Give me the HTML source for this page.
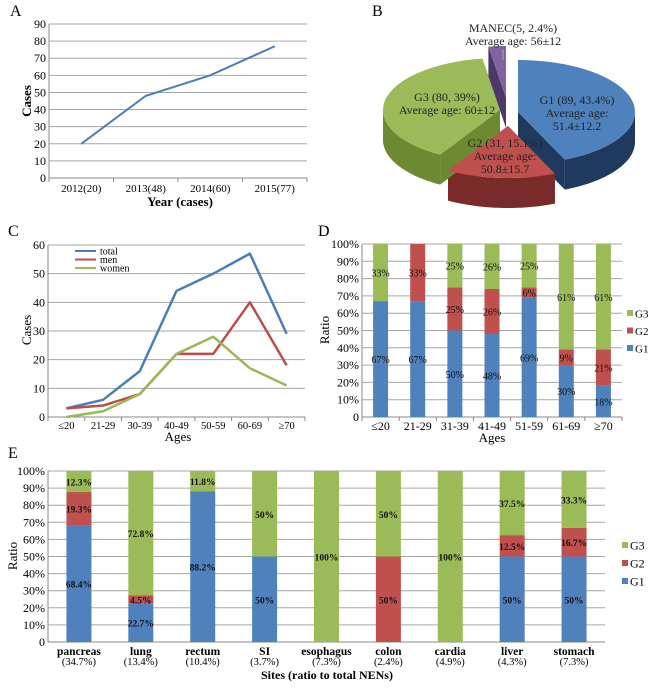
<!DOCTYPE html>
<html><head><meta charset="utf-8">
<style>
html,body{margin:0;padding:0;background:#fff;}
svg, svg text{font-family:"Liberation Serif","DejaVu Serif",serif;}
</style></head>
<body>
<svg id="fig" width="650" height="685" viewBox="0 0 650 685" font-family="Liberation Serif, serif"></svg>
<script>
// Panel A data
const yearsA = ["2012(20)","2013(48)","2014(60)","2015(77)"];
const casesA = [20,48,60,77];
const ticksA = [0,10,20,30,40,50,60,70,80,90];
// Panel B data
const pieLabels = ["G1","G2","G3","MANEC"];
const pieValues = [43.4,15.1,39.0,2.4];
// Panel C data
const agesC = ["≤20","21-29","30-39","40-49","50-59","60-69","≥70"];
const totalC = [3,6,16,44,50,57,29];
const menC = [3,4,8,22,22,40,18];
const womenC = [0,2,8,22,28,17,11];
const ticksC = [0,10,20,30,40,50,60];
// Panel D data
const agesD = ["≤20","21-29","31-39","41-49","51-59","61-69","≥70"];
const g1D = [67,67,50,48,69,30,18];
const g2D = [0,33,25,26,6,9,21];
const g3D = [33,0,25,26,25,61,61];
// Panel E data
const sitesE = ["pancreas","lung","rectum","SI","esophagus","colon","cardia","liver","stomach"];
const sitePctE = ["(34.7%)","(13.4%)","(10.4%)","(3.7%)","(7.3%)","(2.4%)","(4.9%)","(4.3%)","(7.3%)"];
const g1E = [68.4,22.7,88.2,50,0,0,0,50,50];
const g2E = [19.3,4.5,0,0,0,50,0,12.5,16.7];
const g3E = [12.3,72.8,11.8,50,100,50,100,37.5,33.3];
const pctTicks = [0,10,20,30,40,50,60,70,80,90,100];

const NS="http://www.w3.org/2000/svg";
const svg=document.getElementById('fig');
const BLUE="#4f81bd",RED="#c0504d",GREEN="#9bbb59";
const FONT="'Liberation Serif', serif";
function el(tag,attrs,parent,text){
  const e=document.createElementNS(NS,tag);
  for(const k in attrs)e.setAttribute(k,attrs[k]);
  if(tag==='text')e.setAttribute('font-family',FONT);
  if(text!==undefined)e.textContent=text;
  (parent||svg).appendChild(e);return e;
}
function grp(name){const g=el('g',{});return g;}

[["A",10,16],["B",372,16],["C",8,236],["D",318,236],["E",8,458]].forEach(p=>{
  const t=el('text',{x:p[1],y:p[2],'font-size':16},svg,p[0]);
  
  
});

function axes(g,x0,x1,yTop,yBot,ticks,max,fmt,fs){
  const ys=v=>yBot-(v/max)*(yBot-yTop);
  ticks.forEach(v=>{
    el('line',{x1:x0,x2:x1,y1:ys(v),y2:ys(v),stroke:v===0?'#888':'#a6a6a6','stroke-width':1},g);
    const t=el('text',{x:x0-3,y:ys(v)+4,'font-size':fs,'text-anchor':'end'},g,fmt(v));
    
    
  });
  el('line',{x1:x0,x2:x0,y1:yTop,y2:yBot,stroke:'#888'},g);
  return ys;
}

// ===== Panel A =====
(function(){
  const g=grp('panel-a-line-chart');
  const x0=49,x1=307,yT=24,yB=178;
  const ys=axes(g,x0,x1,yT,yB,ticksA,90,v=>v,12);
  const bw=(x1-x0)/yearsA.length;
  const xs=i=>x0+bw*(i+0.5);
  for(let i=0;i<=yearsA.length;i++)el('line',{x1:x0+bw*i,x2:x0+bw*i,y1:yB,y2:yB+4,stroke:'#888'},g);
  yearsA.forEach((c,i)=>{const t=el('text',{x:xs(i),y:192,'font-size':11,'text-anchor':'middle'},g,c);
    });
  const line=el('polyline',{points:casesA.map((v,i)=>xs(i)+','+ys(v)).join(' '),fill:'none',stroke:'#4a7ebb','stroke-width':2},g);
  
  const xt=el('text',{x:180,y:206,'font-size':13,'font-weight':'bold','text-anchor':'middle'},g,'Year (cases)');
  
  const yt=el('text',{x:0,y:0,'font-size':13,'font-weight':'bold','text-anchor':'middle',transform:'translate(31,101) rotate(-90)'},g,'Cases');
  
})();

// ===== Panel B (3D pie) =====
(function(){
  const g=grp('panel-b-pie-chart');
  const cx=510,cy=112,rx=117,ry=52,depth=30;
  const cols=[BLUE,RED,GREEN,"#8064a2"],dark=["#1f3a5e","#7a2a28","#6d8a33","#4b3768"];
  const offs=[[8,0],[-2,14],[-10,-2],[-4,-14]];
  const total=pieValues.reduce((a,b)=>a+b,0);
  const P=(ox,oy,th,dy)=>[cx+ox+rx*Math.sin(th),cy+oy+dy-ry*Math.cos(th)];
  let a=0;const slices=[];
  pieValues.forEach((v,i)=>{const a1=a,a2=a+v/total*2*Math.PI;a=a2;slices.push([a1,a2]);});
  slices.forEach(([a1,a2],i)=>{
    const [ox,oy]=offs[i];
    const s=Math.max(a1,Math.PI/2),e=Math.min(a2,Math.PI*1.5);
    [a1,a2].forEach(t=>{
      const p=P(ox,oy,t,0),q=P(ox,oy,t,depth);
      el('path',{d:`M${cx+ox},${cy+oy}L${p[0]},${p[1]}L${q[0]},${q[1]}L${cx+ox},${cy+oy+depth}Z`,fill:dark[i]},g);
    });
    if(e>s){
      let d='';const n=30;
      for(let k=0;k<=n;k++){const p=P(ox,oy,s+(e-s)*k/n,0);d+=(k?'L':'M')+p[0]+','+p[1];}
      for(let k=n;k>=0;k--){const p=P(ox,oy,s+(e-s)*k/n,depth);d+='L'+p[0]+','+p[1];}
      const w=el('path',{d:d+'Z',fill:dark[i]},g);
      
    }
  });
  slices.forEach(([a1,a2],i)=>{
    const [ox,oy]=offs[i];
    let d=`M${cx+ox},${cy+oy}`;const n=40;
    for(let k=0;k<=n;k++){const p=P(ox,oy,a1+(a2-a1)*k/n,0);d+='L'+p[0]+','+p[1];}
    const s=el('path',{d:d+'Z',fill:cols[i]},g);
    
  });
  el('line',{x1:503,x2:503,y1:49,y2:60,stroke:'#9ab'},g);
  const labs=[[513,["MANEC(5, 2.4%)","Average age: 56±12"],32],[447,["G3 (80, 39%)","Average age: 60±12"],101],
    [577,["G1 (89, 43.4%)","Average age:","51.4±12.2"],104],[505,["G2 (31, 15.1%)","Average age:","50.8±15.7"],147]];
  labs.forEach(l=>{l[1].forEach((s,k)=>{const t=el('text',{x:l[0],y:l[2]+k*13,'font-size':12,'text-anchor':'middle',fill:'#222'},g,s);
    });});
})();

// ===== Panel C =====
(function(){
  const g=grp('panel-c-line-chart');
  const x0=48,x1=305,yT=245,yB=417;
  const ys=axes(g,x0,x1,yT,yB,ticksC,60,v=>v,12);
  const bw=(x1-x0)/agesC.length,xs=i=>x0+bw*(i+0.5);
  for(let i=0;i<=agesC.length;i++)el('line',{x1:x0+bw*i,x2:x0+bw*i,y1:yB,y2:yB+4,stroke:'#888'},g);
  agesC.forEach((c,i)=>{const t=el('text',{x:xs(i),y:429,'font-size':10.5,'text-anchor':'middle'},g,c);
    });
  const series=[[totalC,'#4a7ebb','total'],[menC,'#be4b48','men'],[womenC,'#98b954','women']];
  series.forEach(([d,c,n])=>{
    const l=el('polyline',{points:d.map((v,i)=>xs(i)+','+ys(v)).join(' '),fill:'none',stroke:c,'stroke-width':2.5,'stroke-linejoin':'round'},g);
    
  });
  series.forEach(([d,c,n],k)=>{
    const y=251+k*8.5;
    el('line',{x1:75,x2:96,y1:y,y2:y,stroke:c,'stroke-width':2},g);
    const t=el('text',{x:100,y:y+3.5,'font-size':10},g,n);
    
  });
  const xt=el('text',{x:178,y:441,'font-size':13,'text-anchor':'middle'},g,'Ages');
  
  const yt=el('text',{x:0,y:0,'font-size':13,'text-anchor':'middle',transform:'translate(31,330) rotate(-90)'},g,'Cases');
  
})();

function stacked(g,cats,x0,x1,yT,yB,bw,fs,bold,name){
  const ys=v=>yB-(v/100)*(yB-yT);
  const cw=(x1-x0)/cats.length,xs=i=>x0+cw*(i+0.5);
  return {ys,xs,cw,draw(sets){
    cats.forEach((c,i)=>{
      let base=0;
      sets.forEach(([arr,col,sn])=>{
        const v=arr[i];if(v<=0)return;
        const r=el('rect',{x:xs(i)-bw/2,y:ys(base+v),width:bw,height:ys(base)-ys(base+v),fill:col},g);
        
        const t=el('text',{x:xs(i),y:ys(base+v/2)+4,'font-size':fs,'text-anchor':'middle','font-weight':bold?'bold':'normal',fill:'#111'},g,v+'%');
        
        base+=v;
      });
    });
  }};
}
function legend(g,x,y0,step,fs){
  [["G3",GREEN],["G2",RED],["G1",BLUE]].forEach(([n,c],k)=>{
    const y=y0+k*step;
    el('rect',{x:x,y:y-4,width:6,height:6,fill:c},g);
    const t=el('text',{x:x+8,y:y+3.5,'font-size':fs},g,n);
    
  });
}

// ===== Panel D =====
(function(){
  const g=grp('panel-d-stacked-bar');
  const x0=362,x1=622,yT=244,yB=417;
  axes(g,x0,x1,yT,yB,pctTicks,100,v=>v===0?'0':v+'%',12);
  const s=stacked(g,agesD,x0,x1,yT,yB,15,10,false,'d');
  for(let i=0;i<=agesD.length;i++)el('line',{x1:x0+s.cw*i,x2:x0+s.cw*i,y1:yB,y2:yB+4,stroke:'#888'},g);
  s.draw([[g1D,BLUE,'g1'],[g2D,RED,'g2'],[g3D,GREEN,'g3']]);
  agesD.forEach((c,i)=>{const t=el('text',{x:s.xs(i),y:430,'font-size':12,'text-anchor':'middle'},g,c);
    });
  legend(g,627,314,17.5,11);
  const xt=el('text',{x:492,y:442,'font-size':13,'text-anchor':'middle'},g,'Ages');
  
  const yt=el('text',{x:0,y:0,'font-size':13,'text-anchor':'middle',transform:'translate(329,330) rotate(-90)'},g,'Ratio');
  
})();

// ===== Panel E =====
(function(){
  const g=grp('panel-e-stacked-bar');
  const x0=48,x1=605,yT=471,yB=642;
  axes(g,x0,x1,yT,yB,pctTicks,100,v=>v===0?'0':v+'%',12);
  const s=stacked(g,sitesE,x0,x1,yT,yB,25,9.5,true,'e');
  s.draw([[g1E,BLUE,'g1'],[g2E,RED,'g2'],[g3E,GREEN,'g3']]);
  sitesE.forEach((c,i)=>{
    const t=el('text',{x:s.xs(i),y:655,'font-size':11.5,'font-weight':'bold','text-anchor':'middle'},g,c);
    
    const t2=el('text',{x:s.xs(i),y:665,'font-size':10.5,'text-anchor':'middle'},g,sitePctE[i]);
    
  });
  legend(g,622,546,18,12);
  const xt=el('text',{x:327,y:679,'font-size':12,'font-weight':'bold','text-anchor':'middle'},g,'Sites (ratio to total NENs)');
  
  const yt=el('text',{x:0,y:0,'font-size':13,'text-anchor':'middle',transform:'translate(17,556) rotate(-90)'},g,'Ratio');
  
})();
</script>
</body></html>
